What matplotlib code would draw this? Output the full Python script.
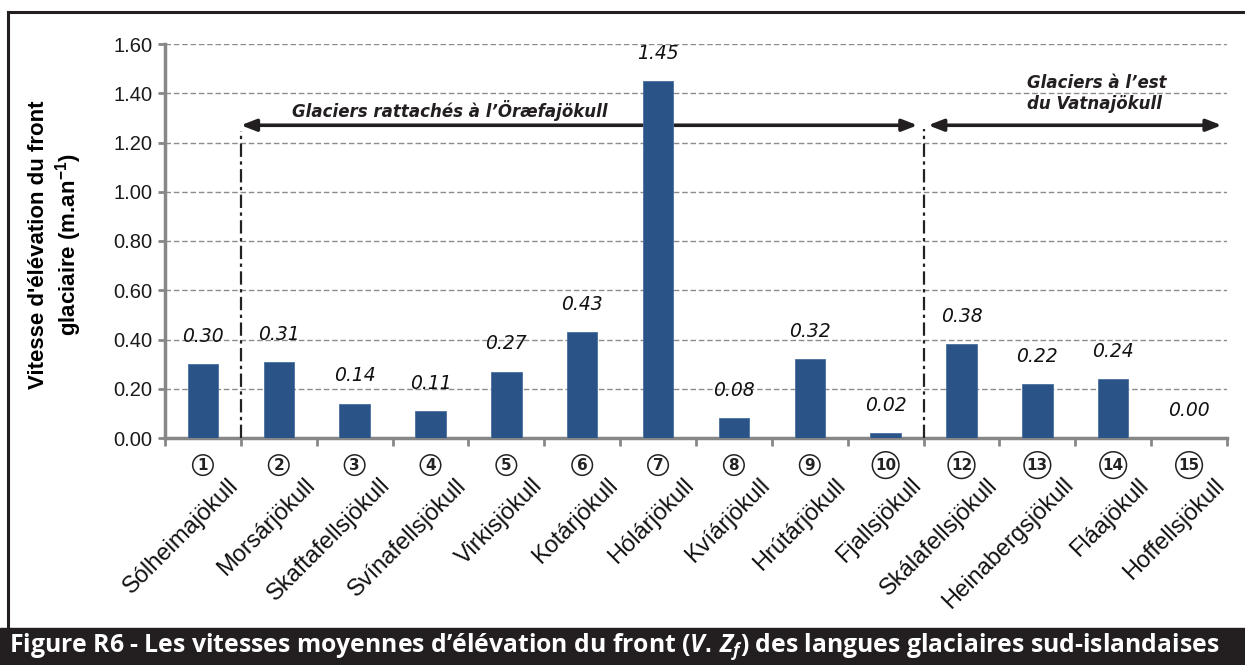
import matplotlib
matplotlib.use("Agg")
import matplotlib.pyplot as plt
from matplotlib.patches import Rectangle
from matplotlib.lines import Line2D
import numpy as np

# glacier fronts, south Iceland
glaciers = ["Sólheimajökull", "Morsárjökull", "Skaftafellsjökull", "Svínafellsjökull",
            "Virkisjökull", "Kotárjökull", "Hólárjökull", "Kvíárjökull", "Hrútárjökull",
            "Fjallsjökull", "Skálafellsjökull", "Heinabergsjökull", "Fláajökull",
            "Hoffellsjökull"]
glacier_ids = ["1", "2", "3", "4", "5", "6", "7", "8", "9", "10", "12", "13", "14", "15"]
rates = [0.30, 0.31, 0.14, 0.11, 0.27, 0.43, 1.45, 0.08, 0.32, 0.02, 0.38, 0.22, 0.24, 0.00]
yticks = [0.0, 0.2, 0.4, 0.6, 0.8, 1.0, 1.2, 1.4, 1.6]

BAR = "#2a5388"
GREY = "#878787"

plt.rcParams["mathtext.fontset"] = "custom"
plt.rcParams["mathtext.rm"] = "Liberation Sans:bold"
plt.rcParams["mathtext.it"] = "Open Sans:bold:italic"

W, H = 1245, 665
fig = plt.figure(figsize=(W / 100, H / 100), dpi=100)
ax = fig.add_axes([165 / W, 1 - 438 / H, (1227 - 165) / W, (438 - 44) / H])

x = np.arange(len(rates))
ax.bar(x, rates, width=0.4, color=BAR, edgecolor="#4a6fa0", linewidth=0.6, zorder=3)

ax.set_xlim(-0.5, len(rates) - 0.5)
ax.set_ylim(0, 1.6)
ax.set_yticks(yticks)
ax.set_yticklabels([f"{v:.2f}" for v in yticks], family="Liberation Sans",
                   fontsize=14.5, color="#1a1a1a")
ax.yaxis.grid(True, color="#8c8c8c", linestyle=(0, (4, 2)), linewidth=1, zorder=0)
ax.tick_params(axis="y", length=5, width=2, color=GREY, pad=4)

# tick marks between categories, labels drawn separately
ax.set_xticks(np.arange(-0.5, len(rates)), minor=True)
ax.set_xticks([])
ax.tick_params(axis="x", which="minor", length=6, width=2, color=GREY)

for s in ("top", "right"):
    ax.spines[s].set_visible(False)
for s in ("left", "bottom"):
    ax.spines[s].set_color(GREY)
    ax.spines[s].set_linewidth(2.5)

for i, (gid, name, v) in enumerate(zip(glacier_ids, glaciers, rates)):
    ax.annotate(f"{v:.2f}", xy=(i, v), xytext=(0, 13), textcoords="offset points",
                ha="center", va="bottom", fontsize=13.5, style="italic", color="#111111")
    ax.annotate(gid, xy=(i, 0), xycoords=("data", "axes fraction"), xytext=(0, -19.5),
                textcoords="offset points", ha="center", va="center", fontsize=11,
                fontweight="bold", color="#222222",
                bbox=dict(boxstyle="circle,pad=0.18", fc="white", ec="#222222", lw=1.1))
    ax.annotate(name, xy=(i, 0), xycoords=("data", "axes fraction"), xytext=(29, -26),
                textcoords="offset points", ha="right", va="top", rotation=45,
                family="Liberation Sans", fontsize=17, color="#111111")

# group separators
ax.plot([0.5, 0.5], [0, 1.245], color="#222222", lw=1.6, linestyle=(0, (6, 2, 1.5, 2)), zorder=4)
ax.plot([9.5, 9.5], [0, 1.255], color="#222222", lw=1.6, linestyle=(0, (6, 2, 1.5, 2)), zorder=4)

arrow = dict(arrowstyle="<|-|>,head_length=0.9,head_width=0.35", color="#231f20", lw=2.6,
             shrinkA=0, shrinkB=0)
ax.annotate("", xy=(9.42, 1.27), xytext=(0.5, 1.27), arrowprops=arrow, zorder=2)
ax.annotate("", xy=(13.43, 1.27), xytext=(9.56, 1.27), arrowprops=arrow, zorder=2)
ax.text(3.25, 1.33, "Glaciers rattachés à l’Öræfajökull", ha="center", va="center",
        fontsize=12, fontweight="bold", style="italic", color="#231f20")
ax.text(10.86, 1.40, "Glaciers à l’est\ndu Vatnajökull", ha="left", va="center",
        fontsize=12, fontweight="bold", style="italic", color="#231f20", linespacing=1.25)

fig.text(56 / W, 1 - 245 / H, "Vitesse d'élévation du front\nglaciaire (m.an$^{\\mathrm{-1}}$)",
         rotation=90, ha="center", va="center", multialignment="center",
         family="Liberation Sans", fontsize=16, fontweight="bold")

# frame and caption band
fig.add_artist(Line2D([8 / W, 8 / W], [1 - 12 / H, 37 / H], color="#231f20", lw=2.2))
fig.add_artist(Line2D([8 / W, 1], [1 - 12 / H, 1 - 12 / H], color="#231f20", lw=2.2))
fig.add_artist(Rectangle((0, 0), 1, 37 / H, transform=fig.transFigure,
                         color="#231f20", zorder=5))
fig.text(9 / W, 18.5 / H,
         "Figure R6 - Les vitesses moyennes d’élévation du front ($V.\\,Z_f$) "
         "des langues glaciaires sud-islandaises",
         ha="left", va="center", family="Open Sans", fontweight="bold", fontsize=17.8,
         color="white", zorder=6)

fig.savefig("out.png", dpi=100)
